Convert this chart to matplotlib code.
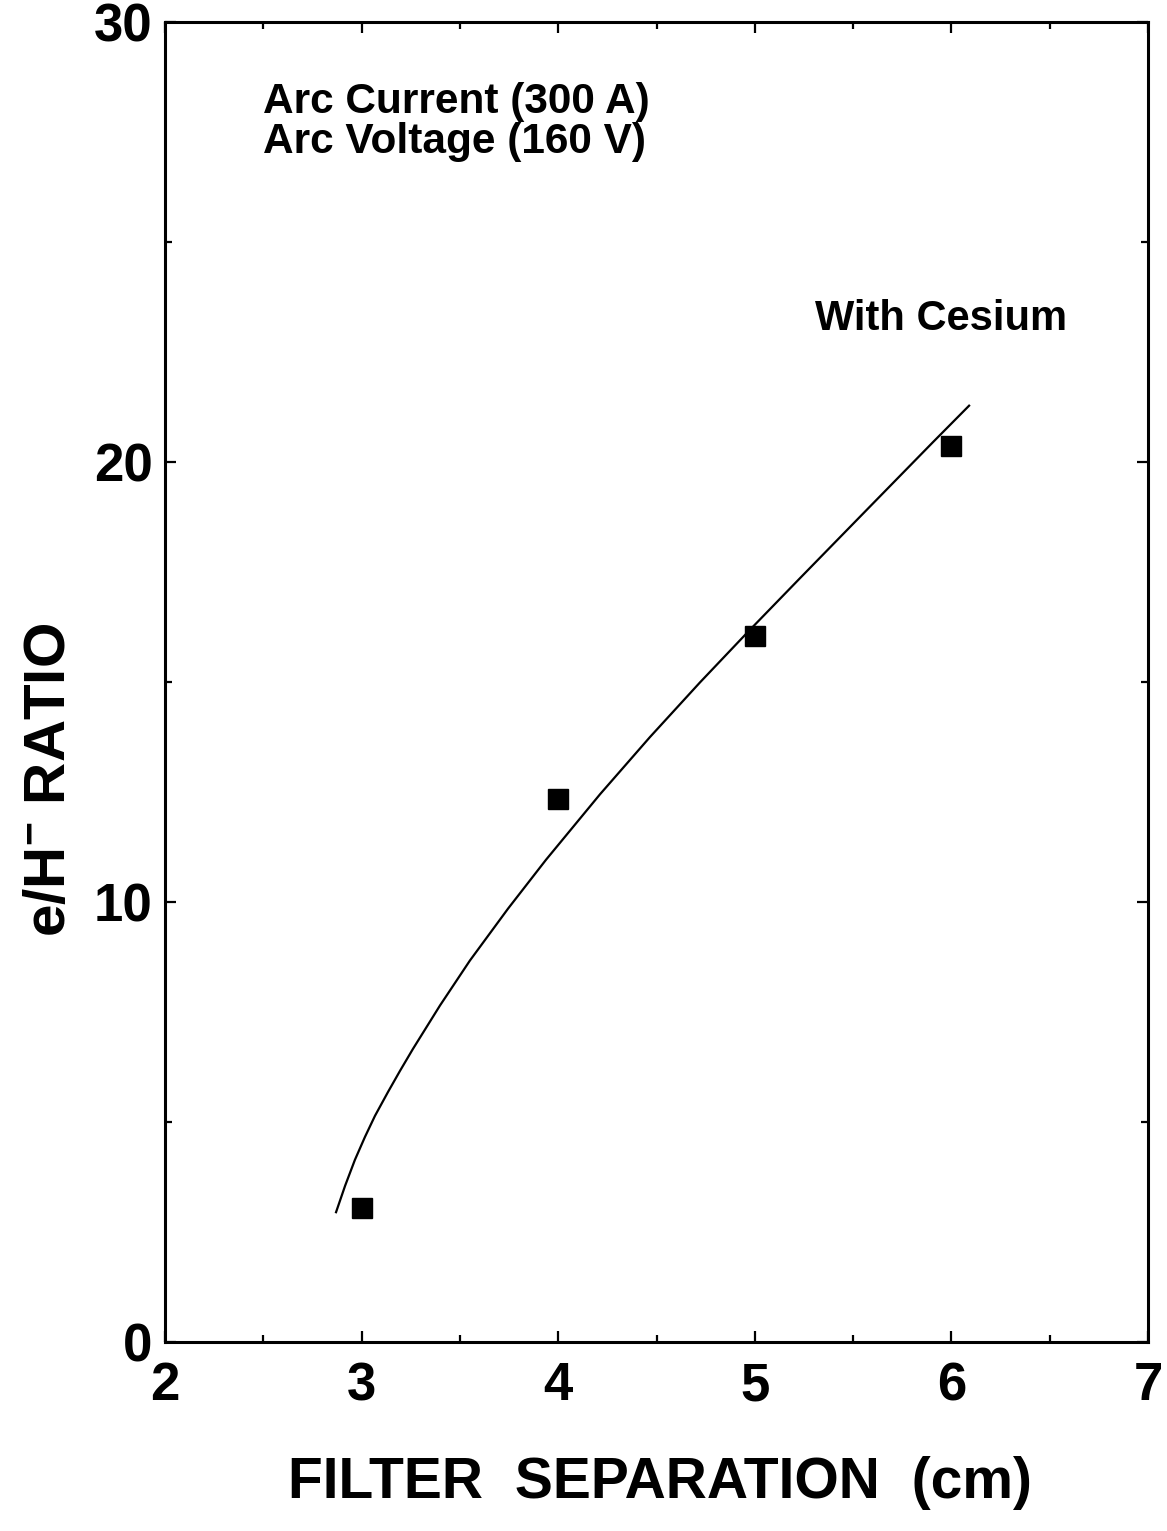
import matplotlib
matplotlib.use("Agg")
import matplotlib.pyplot as plt
from matplotlib.ticker import MultipleLocator

# Data
sep_cm = [3, 4, 5, 6]
ratio = [3.05, 12.34, 16.05, 20.36]

# Fitted curve
curve_x = [2.870, 2.916, 2.966, 3.017, 3.068, 3.134, 3.195, 3.261, 3.399, 3.551,
           3.745, 3.938, 4.213, 4.467, 4.721, 4.976, 5.230, 5.571, 5.906, 6.090]
curve_y = [2.95, 3.55, 4.14, 4.66, 5.14, 5.68, 6.16, 6.66, 7.65, 8.67,
           9.85, 10.96, 12.45, 13.75, 14.99, 16.19, 17.36, 18.92, 20.45, 21.28]

xticks = [2, 3, 4, 5, 6, 7]
yticks = [0, 10, 20, 30]

plt.rcParams['font.family'] = ['Liberation Sans', 'DejaVu Sans']
plt.rcParams['font.weight'] = 'bold'
plt.rcParams['mathtext.fontset'] = 'custom'
plt.rcParams['mathtext.rm'] = 'Liberation Sans:bold'
plt.rcParams['mathtext.bf'] = 'Liberation Sans:bold'
plt.rcParams['mathtext.default'] = 'rm'

W, H = 1167, 1531
fig = plt.figure(figsize=(W / 100, H / 100), dpi=100)
ax = fig.add_axes([165 / W, 1 - 1342 / H, (1148 - 165) / W, (1342 - 22) / H])

ax.plot(curve_x, curve_y, color='black', lw=1.6, solid_joinstyle='round')
ax.plot(sep_cm, ratio, ls='none', marker='s', ms=15, color='black')

ax.set_xlim(2, 7)
ax.set_ylim(0, 30)
ax.set_xticks(xticks)
ax.set_yticks(yticks)
ax.xaxis.set_minor_locator(MultipleLocator(0.5))
ax.yaxis.set_minor_locator(MultipleLocator(5))
ax.tick_params(which='both', direction='in', top=True, right=True, width=1.6)
ax.tick_params(which='major', length=8, labelsize=38)
ax.tick_params(axis='x', which='major', pad=14)
ax.tick_params(axis='y', which='major', pad=9)
ax.tick_params(which='minor', length=5)
for lab in ax.get_xticklabels() + ax.get_yticklabels():
    lab.set_fontweight('bold')
for s in ax.spines.values():
    s.set_linewidth(2.2)

fig.text(263 / W, 1 - 113 / H, 'Arc Current (300 A)', fontsize=30.5,
         fontweight='bold', va='baseline', ha='left')
fig.text(263 / W, 1 - 153 / H, 'Arc Voltage (160 V)', fontsize=30.5,
         fontweight='bold', va='baseline', ha='left')
fig.text(815 / W, 1 - 330 / H, 'With Cesium', fontsize=30,
         fontweight='bold', va='baseline', ha='left')

fig.text(660 / W, 1 - 1483 / H, 'FILTER  SEPARATION  (cm)', fontsize=41,
         fontweight='bold', ha='center', va='center')
fig.text(50 / W, 1 - 780 / H, r'e/H$^{-}$ RATIO', fontsize=42,
         fontweight='bold', ha='center', va='center', rotation=90)

fig.savefig('out.png', dpi=100)
